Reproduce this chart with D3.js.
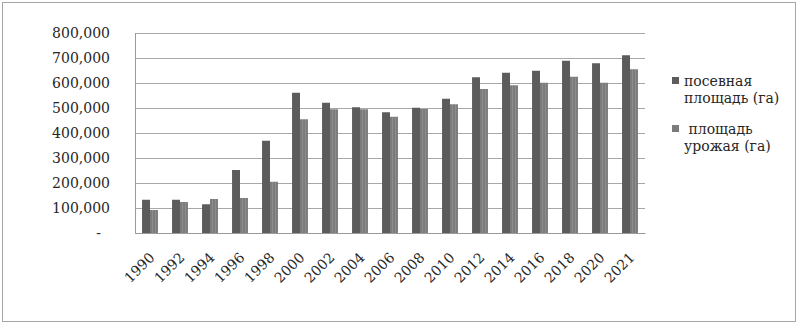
<!DOCTYPE html>
<html>
<head>
<meta charset="utf-8">
<script src="https://cdn.jsdelivr.net/npm/d3@7"></script>
<style>
  body { margin: 0; background: #fff; }
  svg text { font-family: "DejaVu Serif", serif; fill: #262626; }
</style>
</head>
<body>
<svg id="chart" width="799" height="323"></svg>
<script>
const years = ["1990", "1992", "1994", "1996", "1998", "2000", "2002", "2004", "2006",
  "2008", "2010", "2012", "2014", "2016", "2018", "2020", "2021"];
const sown = [133000, 133000, 115000, 252000, 369000, 561000, 521000, 503000, 483000,
  501000, 537000, 623000, 641000, 649000, 689000, 679000, 711000];
const harvested = [92000, 124000, 136000, 140000, 205000, 455000, 495000, 495000, 465000,
  496000, 515000, 576000, 591000, 601000, 625000, 601000, 655000];
const seriesNames = ["посевная|площадь (га)", " площадь|урожая (га)"];
const yTicks = [0, 100000, 200000, 300000, 400000, 500000, 600000, 700000, 800000];

const svg = d3.select("#chart"),
  margin = {top: 33, left: 135, right: 154, bottom: 90},
  width = +svg.attr("width") - margin.left - margin.right,
  height = +svg.attr("height") - margin.top - margin.bottom;

// outer frame
svg.append("rect")
    .attr("x", 2.5).attr("y", 2.5)
    .attr("width", 793).attr("height", 319)
    .attr("fill", "#fff")
    .attr("stroke", "#a6a6a6");

const defs = svg.append("defs");
const pat = defs.append("pattern")
    .attr("id", "stripe")
    .attr("patternUnits", "userSpaceOnUse")
    .attr("width", 3).attr("height", 4);
pat.append("rect").attr("width", 3).attr("height", 4).attr("fill", "#7b7b7b");
pat.append("rect").attr("x", 1).attr("width", 1).attr("height", 4).attr("fill", "#8e8e8e");

const g = svg.append("g")
    .attr("transform", "translate(" + margin.left + "," + margin.top + ")");

const x = d3.scaleBand().domain(years).range([0, width]).paddingInner(0.47).paddingOuter(0.235);
const x1 = d3.scaleBand().domain([0, 1]).range([0, x.bandwidth()]);
const y = d3.scaleLinear().domain([0, 800000]).range([height, 0]);

// gridlines
g.append("g")
    .attr("class", "grid")
    .call(d3.axisLeft(y).tickValues(yTicks).tickSize(-width).tickFormat(""))
    .call(a => a.select(".domain").remove())
    .call(a => a.selectAll("line").attr("stroke", "#a8a8a8"));

// y axis labels
g.append("g")
    .call(d3.axisLeft(y).tickValues(yTicks).tickSize(0).tickPadding(25)
      .tickFormat(d => d === 0 ? "-" : d3.format(",")(d)))
    .call(a => a.select(".domain").remove())
    .call(a => a.selectAll("text").attr("font-size", 14).attr("font-family", "DejaVu Serif").attr("fill", "#262626"))
    .call(a => a.selectAll("text").filter(d => d === 0).attr("dx", -9));

// vertical axis line
g.append("line")
    .attr("x1", 0.5).attr("x2", 0.5)
    .attr("y1", 0).attr("y2", height)
    .attr("stroke", "#9a9a9a");

// bars
const groups = g.selectAll(".grp")
  .data(years)
  .enter().append("g")
    .attr("transform", d => "translate(" + x(d) + ",0)");

groups.append("rect")
    .attr("x", x1(0))
    .attr("y", (d, i) => y(sown[i]))
    .attr("width", x1.bandwidth())
    .attr("height", (d, i) => height - y(sown[i]))
    .attr("fill", "#5c5c5c");

groups.append("rect")
    .attr("x", x1(1))
    .attr("y", (d, i) => y(harvested[i]))
    .attr("width", x1.bandwidth())
    .attr("height", (d, i) => height - y(harvested[i]))
    .attr("fill", "url(#stripe)");

// x axis
g.append("g")
    .attr("transform", "translate(0," + height + ")")
    .call(d3.axisBottom(x).tickSize(0).tickPadding(0))
    .call(a => a.select(".domain").attr("stroke", "#9a9a9a"))
    .call(a => a.selectAll("text")
      .attr("font-size", 14).attr("font-family", "DejaVu Serif").attr("fill", "#262626")
      .attr("text-anchor", "end")
      .attr("dy", "0.35em")
      .attr("transform", "translate(2,22) rotate(-45)"));

// legend
const legend = svg.append("g").attr("transform", "translate(672,0)");
const legendY = [86, 134];
const legendFill = ["#5c5c5c", "#7b7b7b"];
seriesNames.forEach((name, i) => {
  const lines = name.split("|");
  legend.append("rect")
      .attr("x", 0).attr("y", legendY[i] - 9)
      .attr("width", 7).attr("height", 7)
      .attr("fill", legendFill[i]);
  const t = legend.append("text")
      .attr("font-size", 14)
      .attr("y", legendY[i]);
  lines.forEach((l, j) => {
    t.append("tspan")
      .attr("x", 12)
      .attr("dy", j === 0 ? 0 : 17)
      .attr("xml:space", "preserve")
      .text(l);
  });
});
</script>
</body>
</html>
